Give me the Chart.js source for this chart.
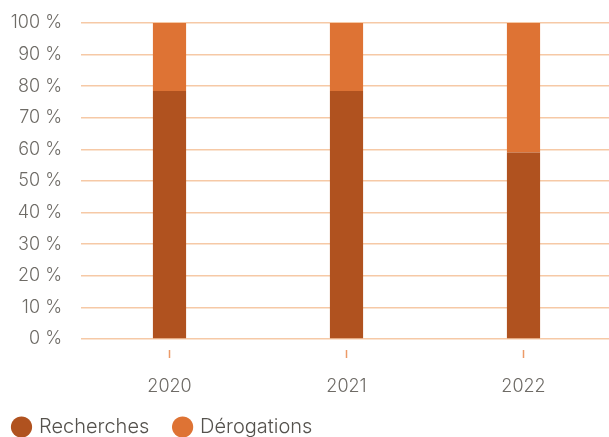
<!DOCTYPE html>
<html>
<head>
<meta charset="utf-8">
<script src="https://cdn.jsdelivr.net/npm/chart.js@4/dist/chart.umd.min.js"></script>
<style>
  html, body { margin: 0; padding: 0; background: #fff; }
  #wrap { width: 609px; height: 437px; position: relative; }
</style>
</head>
<body>
<div id="wrap"><canvas id="c"></canvas></div>
<script>
// Share of each request type per year (percent)
const years = ['2020', '2021', '2022'];
const recherches = [78.5, 78.5, 59];
const derogations = [21.5, 21.5, 41];
const yTicks = [0, 10, 20, 30, 40, 50, 60, 70, 80, 90, 100];

const textColor = '#6e6b66';
const gridColor = '#f6c9a6';
const fontFamily = "Inter, sans-serif";

// Let the category axis run a few pixels past the right edge of the canvas
const widenCategoryAxis = {
  id: 'widenCategoryAxis',
  afterLayout(chart) {
    const s = chart.scales.x;
    s.right += 3;
    s.width += 3;
    s.configure();
  }
};

new Chart(document.getElementById('c'), {
  type: 'bar',
  plugins: [widenCategoryAxis],
  data: {
    labels: years,
    datasets: [
      { label: 'Recherches', data: recherches, backgroundColor: '#b0521f', categoryPercentage: 1, barPercentage: 0.1875 },
      { label: 'Dérogations', data: derogations, backgroundColor: '#de7334', categoryPercentage: 1, barPercentage: 0.1875 }
    ]
  },
  options: {
    responsive: true,
    maintainAspectRatio: false,
    animation: false,
    layout: { padding: { left: 0, right: 0, top: 0, bottom: 0 } },
    plugins: {
      tooltip: { enabled: false },
      legend: {
        position: 'bottom',
        align: 'start',
        maxHeight: 34,
        labels: {
          usePointStyle: true,
          pointStyle: 'circle',
          boxWidth: 15,
          boxHeight: 15,
          padding: 14,
          color: '#55524d',
          font: { family: fontFamily, size: 20, weight: 300 },
          // a little extra room after each entry's text
          generateLabels: (chart) => Chart.defaults.plugins.legend.labels.generateLabels(chart)
            .map(item => ({ ...item, text: item.text + '\u2002\u200A' }))
        }
      }
    },
    scales: {
      x: {
        stacked: true,
        border: { display: false },
        afterFit: (scale) => { scale.height = 64; },
        grid: {
          display: true,
          drawOnChartArea: false,
          offset: false,
          tickLength: 19,
          tickWidth: 1.5,
          tickColor: '#ec9a68',
          tickBorderDash: [0, 11, 8, 0]
        },
        ticks: { color: textColor, padding: 18, font: { family: fontFamily, size: 18, weight: 300 } }
      },
      y: {
        stacked: true,
        min: 0,
        max: 100,
        afterBuildTicks: (scale) => { scale.ticks = yTicks.map(v => ({ value: v })); },
        afterFit: (scale) => { scale.width = 81; scale.paddingTop = 23; scale.paddingBottom = 0; },
        border: { display: false },
        grid: { color: gridColor, lineWidth: 1.5, drawTicks: false },
        ticks: {
          color: textColor,
          padding: 19,
          font: { family: fontFamily, size: 18, weight: 300 },
          callback: (v) => v + ' %'
        }
      }
    }
  }
});
</script>
</body>
</html>
